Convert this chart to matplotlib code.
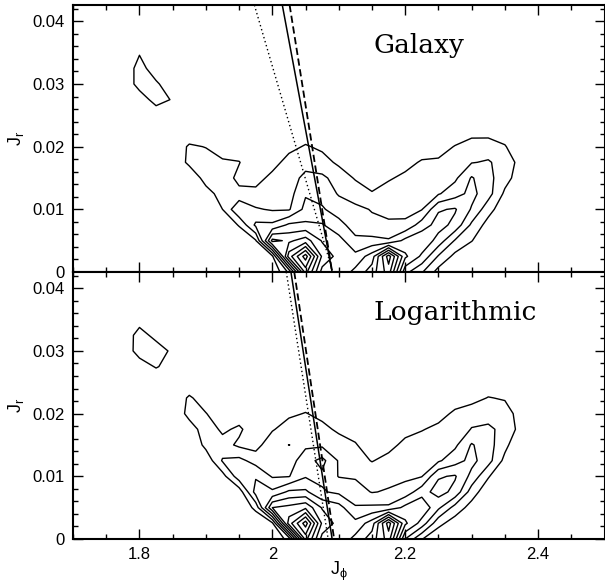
import matplotlib
matplotlib.use('Agg')
import matplotlib.pyplot as plt
from matplotlib.ticker import MultipleLocator, FuncFormatter

# grid on which the action-space density was sampled
jphi_grid = [1.75, 1.775, 1.80, 1.825, 1.85, 1.875, 1.90, 1.925, 1.95, 1.975,
             2.00, 2.025, 2.05, 2.075, 2.10, 2.125, 2.15, 2.175, 2.20, 2.225,
             2.25, 2.275, 2.30, 2.325, 2.35, 2.375, 2.40]
jr_grid = [0.0, 0.0025, 0.005, 0.0075, 0.01, 0.0125, 0.015, 0.0175, 0.02,
           0.0225, 0.025, 0.0275, 0.03, 0.0325, 0.035, 0.0375]

levels = [1, 2, 3, 4, 5, 6, 7, 8, 9, 10]

# density, one row per Jr value (bottom row first)
galaxy = [
    [0, 0, 0, 0, 0, 0, 0, 0, 0, 0, 0, 2.2, 8.4, 4.6, 4.3, 5.3, 6.5, 8.5, 3.3, 2.1, 0.6, 0, 0, 0, 0, 0, 0],
    [0, 0, 0, 0, 0, 0, 0, 0, 0, 0, 0.8, 7.5, 10.5, 5.8, 4.6, 4.3, 5.5, 9.5, 5.2, 3.8, 1.9, 0.7, 0, 0, 0, 0, 0],
    [0, 0, 0, 0, 0, 0, 0, 0, 0, 0.9, 6.3, 5.8, 6.5, 4.9, 4.4, 3.2, 3.3, 3.1, 4.3, 4.8, 3.6, 1.9, 1.05, 0, 0, 0, 0],
    [0, 0, 0, 0, 0, 0, 0, 0, 1.1, 3.2, 3.2, 4.2, 4.2, 4.1, 3.3, 2.6, 2.2, 2.3, 2.2, 3.5, 4.4, 3.7, 1.8, 0.6, 0, 0, 0],
    [0, 0, 0, 0, 0, 0, 0, 1.0, 2.9, 2.1, 1.9, 1.9, 3.3, 3.1, 2.6, 2.2, 1.95, 1.5, 1.7, 1.95, 3.9, 4.1, 2.9, 1.4, 0.3, 0, 0],
    [0, 0, 0, 0, 0, 0, 0.5, 1.5, 1.3, 1.3, 1.5, 1.6, 2.9, 2.7, 1.9, 1.6, 1.1, 1.4, 1.5, 1.6, 1.9, 2.6, 3.3, 2.4, 0.8, 0, 0],
    [0, 0, 0, 0, 0, 0, 1.5, 1.6, 0.7, 0.6, 1.3, 1.5, 2.3, 2.2, 1.6, 0.9, 0.4, 0.9, 1.2, 1.4, 1.5, 1.8, 3.1, 2.3, 1.4, 0.4, 0],
    [0, 0, 0, 0, 0, 1.3, 1.6, 1.2, 1.05, 0.2, 0.6, 1.4, 1.6, 1.4, 0.8, 0, 0, 0, 0.7, 1.1, 1.15, 1.3, 1.95, 2.1, 1.6, 0.6, 0],
    [0, 0, 0, 0, 0, 1.2, 0.95, 0.3, 0.3, 0, 0, 0.7, 1.1, 0.8, 0, 0, 0, 0, 0, 0.5, 0.6, 1.05, 1.6, 1.5, 1.1, 0, 0],
    [0, 0, 0, 0, 0, 0, 0, 0, 0, 0, 0, 0, 0.4, 0, 0, 0, 0, 0, 0, 0, 0, 0.4, 0.5, 0.6, 0.3, 0, 0],
    [0, 0, 0, 0.2, 0, 0, 0, 0, 0, 0, 0, 0, 0, 0, 0, 0, 0, 0, 0, 0, 0, 0, 0, 0, 0, 0, 0],
    [0, 0, 0.3, 1.5, 0.9, 0, 0, 0, 0, 0, 0, 0, 0, 0, 0, 0, 0, 0, 0, 0, 0, 0, 0, 0, 0, 0, 0],
    [0, 0, 1.5, 1.2, 0.2, 0, 0, 0, 0, 0, 0, 0, 0, 0, 0, 0, 0, 0, 0, 0, 0, 0, 0, 0, 0, 0, 0],
    [0, 0, 1.5, 0.3, 0, 0, 0, 0, 0, 0, 0, 0, 0, 0, 0, 0, 0, 0, 0, 0, 0, 0, 0, 0, 0, 0, 0],
    [0, 0, 0.9, 0, 0, 0, 0, 0, 0, 0, 0, 0, 0, 0, 0, 0, 0, 0, 0, 0, 0, 0, 0, 0, 0, 0, 0],
    [0, 0, 0, 0, 0, 0, 0, 0, 0, 0, 0, 0, 0, 0, 0, 0, 0, 0, 0, 0, 0, 0, 0, 0, 0, 0, 0],
]

logarithmic = [
    [0, 0, 0, 0, 0, 0, 0, 0, 0, 0, 0, 1.4, 8.4, 4.6, 4.3, 5.3, 6.5, 8.5, 3.0, 1.05, 0.2, 0, 0, 0, 0, 0, 0],
    [0, 0, 0, 0, 0, 0, 0, 0, 0, 0, 0.8, 7.5, 10.5, 5.8, 4.6, 4.3, 5.5, 9.5, 5.2, 3.6, 1.3, 0.5, 0, 0, 0, 0, 0],
    [0, 0, 0, 0, 0, 0, 0, 0, 0, 1.3, 6.0, 6.3, 6.8, 4.9, 4.4, 3.1, 3.2, 3.2, 4.3, 4.8, 3.2, 1.6, 0.6, 0, 0, 0, 0],
    [0, 0, 0, 0, 0, 0, 0, 0, 0.4, 3.4, 3.2, 4.2, 4.2, 3.1, 2.8, 2.4, 1.95, 2.1, 2.4, 3.6, 4.4, 3.7, 1.5, 0.3, 0, 0, 0],
    [0, 0, 0, 0, 0, 0, 0, 0.6, 2.6, 2.9, 1.9, 1.95, 2.9, 2.8, 1.95, 1.9, 1.6, 1.7, 1.8, 1.95, 3.9, 4.1, 2.7, 1.1, 0, 0, 0],
    [0, 0, 0, 0, 0, 0, 0.3, 2.1, 2.3, 1.6, 1.5, 1.5, 2.6, 3.3, 1.9, 1.4, 0.95, 1.3, 1.5, 1.7, 1.85, 2.6, 3.3, 2.4, 0.7, 0, 0],
    [0, 0, 0, 0, 0, 0, 1.3, 1.4, 0.8, 0.6, 1.7, 2.01, 1.8, 1.8, 1.5, 1.1, 0.3, 0.7, 1.25, 1.4, 1.5, 1.8, 3.1, 2.4, 1.3, 0, 0],
    [0, 0, 0, 0, 0, 0.4, 1.6, 0.8, 1.2, 0.3, 0.9, 1.5, 1.5, 1.3, 0.8, 0.5, 0, 0, 0.7, 0.95, 1.2, 1.4, 2.05, 2.2, 1.7, 0.6, 0],
    [0, 0, 0, 0, 0, 1.4, 1.05, 0.2, 0.4, 0, 0, 0.8, 1.05, 0.7, 0, 0, 0, 0, 0, 0.3, 0.7, 1.15, 1.6, 1.6, 1.5, 0.5, 0],
    [0, 0, 0, 0, 0, 1.2, 0.3, 0, 0, 0, 0, 0, 0.4, 0, 0, 0, 0, 0, 0, 0, 0, 0.6, 0.6, 1.05, 0.9, 0, 0],
    [0, 0, 0, 0, 0, 0, 0, 0, 0, 0, 0, 0, 0, 0, 0, 0, 0, 0, 0, 0, 0, 0, 0, 0.3, 0, 0, 0],
    [0, 0, 0.4, 1.1, 0.5, 0, 0, 0, 0, 0, 0, 0, 0, 0, 0, 0, 0, 0, 0, 0, 0, 0, 0, 0, 0, 0, 0],
    [0, 0.2, 1.5, 1.5, 0.8, 0, 0, 0, 0, 0, 0, 0, 0, 0, 0, 0, 0, 0, 0, 0, 0, 0, 0, 0, 0, 0, 0],
    [0, 0.3, 1.4, 0.7, 0, 0, 0, 0, 0, 0, 0, 0, 0, 0, 0, 0, 0, 0, 0, 0, 0, 0, 0, 0, 0, 0, 0],
    [0, 0, 0.6, 0, 0, 0, 0, 0, 0, 0, 0, 0, 0, 0, 0, 0, 0, 0, 0, 0, 0, 0, 0, 0, 0, 0, 0],
    [0, 0, 0, 0, 0, 0, 0, 0, 0, 0, 0, 0, 0, 0, 0, 0, 0, 0, 0, 0, 0, 0, 0, 0, 0, 0, 0],
]

panel_names = ['Galaxy', 'Logarithmic']
panel_grids = [galaxy, logarithmic]

# straight lines (Jphi at the top of the frame, Jphi at Jr = 0)
jr_ends = [0.0426, 0.0]
solid_jphi = [[2.015, 2.090], [2.028, 2.090]]
dashed_jphi = [[2.026, 2.090], [2.033, 2.093]]
dotted_jphi = [[1.973, 2.091], [2.021, 2.084]]

fig = plt.figure(figsize=(6.05, 5.84), dpi=100)
ax_top = fig.add_axes([0.1207, 0.5342, 0.8785, 0.4572])
ax_bot = fig.add_axes([0.1207, 0.0771, 0.8785, 0.4572])

fmt = FuncFormatter(lambda v, pos: '%g' % round(v, 4))

for k, ax in enumerate([ax_top, ax_bot]):
    ax.contour(jphi_grid, jr_grid, panel_grids[k], levels=levels,
               colors='black', linewidths=1.0, linestyles='solid')
    ax.plot(solid_jphi[k], jr_ends, color='black', lw=1.1)
    ax.plot(dashed_jphi[k], jr_ends, color='black', lw=1.3, dashes=(4, 2))
    ax.plot(dotted_jphi[k], jr_ends, color='black', lw=1.0, dashes=(1, 2))

    ax.text(2.153, 0.0362, panel_names[k], family='DejaVu Serif',
            fontsize=19, ha='left', va='center')

    ax.set_xlim(1.7, 2.5)
    ax.set_ylim(0, 0.0426)
    ax.xaxis.set_major_locator(MultipleLocator(0.2))
    ax.xaxis.set_minor_locator(MultipleLocator(0.05))
    ax.yaxis.set_major_locator(MultipleLocator(0.01))
    ax.yaxis.set_minor_locator(MultipleLocator(0.002))
    ax.xaxis.set_major_formatter(fmt)
    ax.yaxis.set_major_formatter(fmt)
    ax.tick_params(which='both', direction='in', top=True, right=True,
                   width=1.0, labelsize=12, pad=6)
    ax.tick_params(which='major', length=7)
    ax.tick_params(which='minor', length=3.5)
    for lab in ax.get_xticklabels() + ax.get_yticklabels():
        lab.set_family('Liberation Sans')
    for sp in ax.spines.values():
        sp.set_linewidth(1.5)
    ax.set_ylabel(r'$\mathregular{J_r}$', fontsize=13, family='Liberation Sans')
    ax.yaxis.label.set_va('center')
    ax.yaxis.set_label_coords(-0.108, 0.5)

ax_top.tick_params(labelbottom=False)
ax_bot.set_xlabel(r'$\mathregular{J_\phi}$', fontsize=13, family='Liberation Sans')
ax_bot.xaxis.label.set_va('center')
ax_bot.xaxis.set_label_coords(0.5, -0.12)

fig.savefig('out.png', dpi=100)
